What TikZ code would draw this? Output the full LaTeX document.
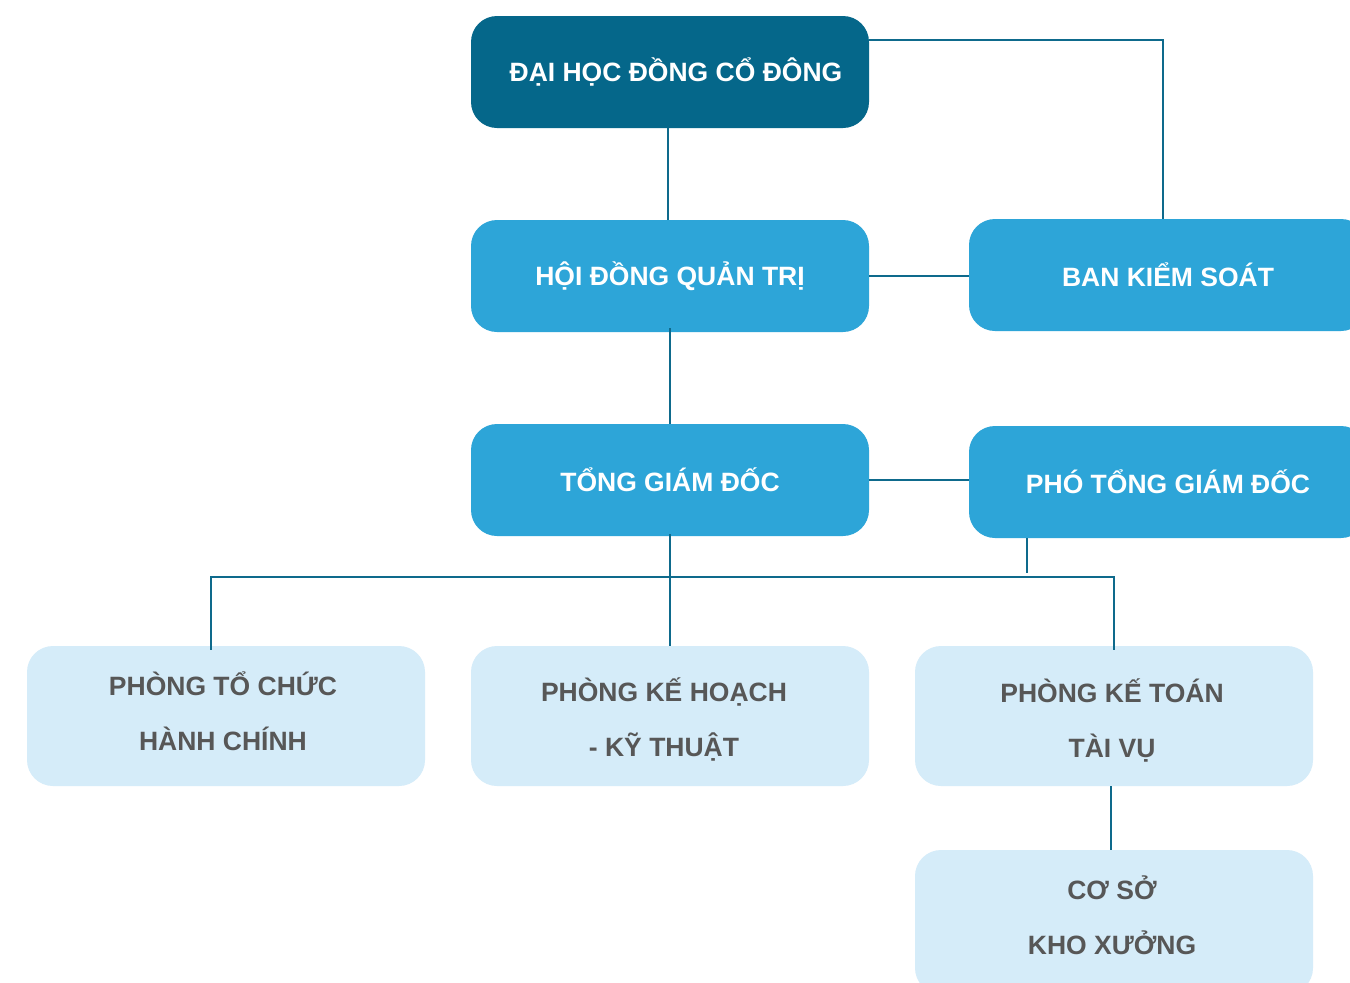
\documentclass[tikz,border=0pt]{standalone}
\usepackage{fontspec}
\setmainfont{Liberation Sans}
\definecolor{cdark}{HTML}{05678A}
\definecolor{cmid}{HTML}{2DA5D8}
\definecolor{clight}{HTML}{D5ECF9}
\definecolor{cline}{HTML}{0E6A8C}
\definecolor{cgrey}{HTML}{575757}
\begin{document}
\begin{tikzpicture}[x=1pt,y=-1pt,
  box/.style={rectangle, rounded corners=26pt, minimum width=398pt, inner sep=0pt,
    font=\fontsize{26.5}{55}\selectfont\bfseries, align=center},
  topbox/.style={box, fill=cdark, text=white, minimum height=112pt},
  midbox/.style={box, fill=cmid, text=white, minimum height=112pt},
  lowbox/.style={box, fill=clight, text=cgrey, minimum height=140pt},
  lowtext/.style={font=\fontsize{26.5}{55}\selectfont\bfseries, align=center, text=cgrey, inner sep=0pt},
  conn/.style={draw=cline, line width=2.6pt}]
\clip (0,0) rectangle (1350,983);
\fill[white] (0,0) rectangle (1350,983);
% boxes
\node[topbox] (dh) at (670,72) {};
\node[font=\fontsize{26.5}{55}\selectfont\bfseries, text=white] (dht) at (676,72) {ĐẠI HỌC ĐỒNG CỔ ĐÔNG};
\node[midbox] (hd) at (670,276) {HỘI ĐỒNG QUẢN TRỊ};
\node[midbox] (bks) at (1168,275) {BAN KIỂM SOÁT};
\node[midbox] (tgd) at (670,480) {TỔNG GIÁM ĐỐC};
\node[midbox] (ptgd) at (1168,482) {PHÓ TỔNG GIÁM ĐỐC};
\node[lowbox] (ptc) at (226,716) {};
\node[lowbox] (pkh) at (670,716) {};
\node[lowbox] (pkt) at (1114,716) {};
\node[lowbox, minimum height=144pt] (cs) at (1114,922) {};
\node[lowtext] (ptct) at (223,711) {PHÒNG TỔ CHỨC\\HÀNH CHÍNH};
\node[lowtext] (pkht) at (664,719) {PHÒNG KẾ HOẠCH\\- KỸ THUẬT};
\node[lowtext] (pktt) at (1112,720) {PHÒNG KẾ TOÁN\\TÀI VỤ};
\node[lowtext] (cst) at (1112,915) {CƠ SỞ\\KHO XƯỞNG};
% coordinates
\coordinate (tr) at (1163,40);
\coordinate (busL) at (211,577);
\coordinate (busR) at (1114,577);
\coordinate (pj) at (1027,573);
% connectors
\draw[conn] (dh.east |- tr) -- (tr) -- (tr |- bks.north);
\draw[conn] ([xshift=-2pt]dh.south) -- ([xshift=-2pt]hd.north);
\draw[conn] (hd.east) -- (hd.east -| bks.west);
\draw[conn] ([yshift=4pt]hd.south) -- (tgd.north);
\draw[conn] (tgd.east) -- (tgd.east -| ptgd.west);
\draw[conn] ([yshift=2pt]tgd.south) -- (pkh.north);
\draw[conn] ([yshift=-4pt]busL |- ptc.north) -- (busL) -- (busR) -- ([yshift=-4pt]busR |- pkt.north);
\draw[conn] (pj |- ptgd.south) -- (pj);
\draw[conn] ([xshift=-3pt]pkt.south) -- ([xshift=-3pt]cs.north);
\end{tikzpicture}
\end{document}
